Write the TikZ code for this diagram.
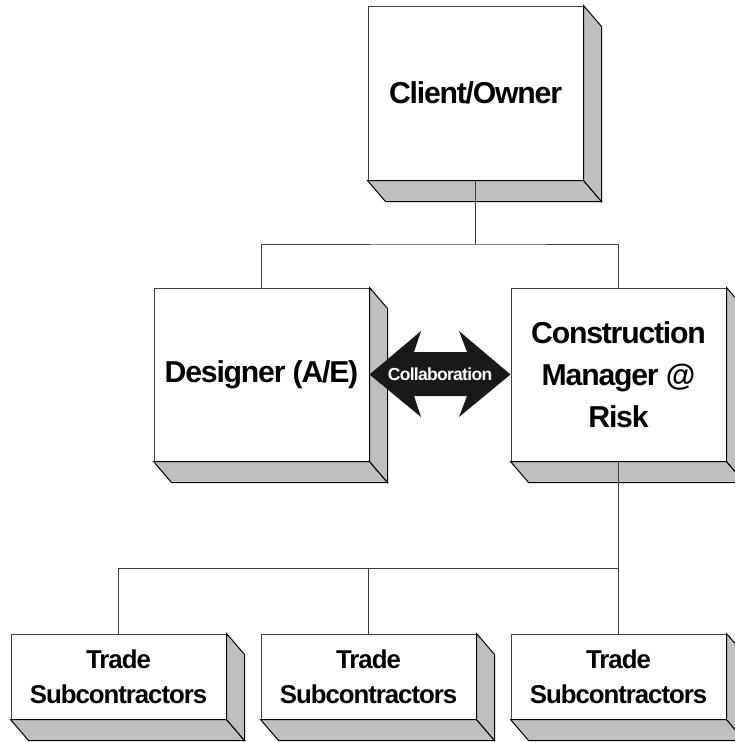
\documentclass[tikz,border=0pt]{standalone}
\usepackage{fontspec}
\setmainfont{Liberation Sans}[LetterSpace=-4]

\tikzset{
    box/.style={draw=black!75, fill=white, line width=1pt, minimum width=215pt, inner sep=0pt, align=center, font=\bfseries\fontsize{30.2}{42}\selectfont},
    bigbox/.style={box, minimum height=173pt},
    tradebox/.style={box, minimum height=85pt, font=\bfseries\fontsize{25.8}{35}\selectfont},
    side/.style={fill=black!25, draw=black, line width=1pt},
    link/.style={draw=black!75, line width=1pt},
}

\begin{document}
\begin{tikzpicture}[x=1pt, y=-1pt]
    \useasboundingbox (0,0) rectangle (735,742);

    \node[bigbox, minimum height=174pt] (client) at (475.5,93) {Client/Owner};
    \node[bigbox] (designer) at (261.5,374.5) {Designer (A/E)};
    \node[bigbox] (cm) at (618.5,374.5) {Construction\\Manager @\\Risk};

    \node[tradebox] (tradeA) at (118.5,676.5) {Trade\\Subcontractors};
    \node[tradebox] (tradeB) at (368.5,676.5) {Trade\\Subcontractors};
    \node[tradebox] (tradeC) at (618.5,676.5) {Trade\\Subcontractors};

    % sides of the boxes
    \foreach \n in {client,designer,cm,tradeA,tradeB,tradeC}{
        \filldraw[side] (\n.south west) -- (\n.south east) -- ([shift={(18,21)}]\n.south east) -- ([shift={(18,21)}]\n.south west) -- cycle;
        \filldraw[side] (\n.north east) -- ([shift={(18,21)}]\n.north east) -- ([shift={(18,21)}]\n.south east) -- (\n.south east) -- cycle;
    }

    % collaboration arrow
    \fill[black!90] (designer.east) -- (421,331) -- (414,352) -- (467,352) -- (459,331) -- (cm.west)
        -- (459,417) -- (467,396) -- (414,396) -- (421,417) -- cycle;
    \node[text=white, font=\bfseries\fontsize{17.5}{20}\selectfont] (collab) at (440,374.5) {Collaboration};

    % connectors
    \coordinate (topbus) at (475.5,244);
    \coordinate (lowbus) at (618.5,568);
    \draw[link] (client.south) -- (topbus);
    \draw[link] (designer.north) |- (topbus) -| (cm.north);
    \draw[link] (cm.south) -- (lowbus);
    \draw[link] (tradeA.north) |- (lowbus);
    \draw[link] (tradeB.north) -- (tradeB.north |- lowbus);
    \draw[link] (tradeC.north) -- (lowbus);
\end{tikzpicture}
\end{document}
